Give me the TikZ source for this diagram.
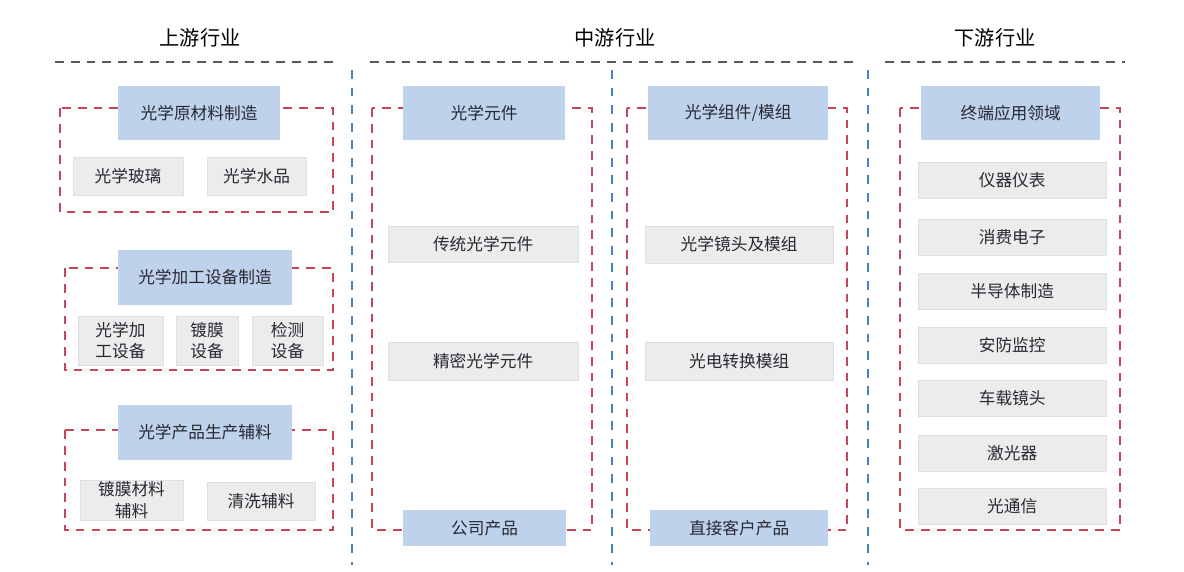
\documentclass[tikz,border=0pt]{standalone}
\usepackage{fontspec}
\setmainfont{Noto Sans CJK SC}
\definecolor{hblue}{RGB}{190,210,236}
\definecolor{gbox}{RGB}{236,236,236}
\definecolor{rdash}{RGB}{200,70,90}
\definecolor{bdash}{RGB}{70,130,190}
\definecolor{txt}{RGB}{40,40,50}
\newcommand{\bx}[7]{\node[#2, minimum width={(#5-#3)*0.02cm}, minimum height={(#6-#4)*0.02cm}] (#1) at ({(#3+#5)/2*0.02},{-(#4+#6)/2*0.02}) {#7};}
\newcommand{\rbox}[5]{\draw[rdash, dashed, line width=1pt, dash pattern=on 5pt off 4pt] ({#2*0.02},{-#3*0.02}) rectangle ({#4*0.02},{-#5*0.02}) coordinate (#1);}
\begin{document}
\begin{tikzpicture}[
  hdr/.style={fill=hblue, inner sep=0pt, font=\fontsize{9.5}{11}\selectfont, text=txt},
  gb/.style={fill=gbox, draw=gray!25, inner sep=0pt, align=center, font=\fontsize{9.5}{12}\selectfont, text=txt, drop shadow/.style={}},
  ttl/.style={font=\fontsize{11.5}{13}\selectfont, text=black}]
\useasboundingbox (0,0) rectangle (23.68,-11.44);
\fill[white] (0,0) rectangle (23.68,-11.44);
% titles
\node[ttl] (t1) at (4.0,-0.76) {上游行业};
\node[ttl] (t2) at (12.3,-0.76) {中游行业};
\node[ttl] (t3) at (19.9,-0.76) {下游行业};
\draw[gray!70!black, dashed, line width=0.8pt, dash pattern=on 5pt off 4pt] (1.1,-1.24) -- (6.7,-1.24);
\draw[gray!70!black, dashed, line width=0.8pt, dash pattern=on 5pt off 4pt] (7.4,-1.24) -- (17.1,-1.24);
\draw[gray!70!black, dashed, line width=0.8pt, dash pattern=on 5pt off 4pt] (17.7,-1.24) -- (22.5,-1.24);
\foreach \x in {352,612,868}
  \draw[bdash, dashed, line width=0.8pt, dash pattern=on 5pt off 5pt] ({\x*0.02},-1.4) -- ({\x*0.02},-11.3);
% red boxes
\rbox{r1}{60}{108}{333}{212}
\rbox{r2}{65}{268}{333}{370}
\rbox{r3}{65}{430}{333}{530}
\rbox{r4}{372}{108}{592}{530}
\rbox{r5}{627}{108}{847}{530}
\rbox{r6}{900}{108}{1120}{530}
% upstream
\bx{h1}{hdr}{118}{86}{280}{140}{光学原材料制造}
\bx{a1}{gb}{73}{157}{183}{195}{光学玻璃}
\bx{a2}{gb}{207}{157}{306}{195}{光学水品}
\bx{h2}{hdr}{118}{250}{292}{305}{光学加工设备制造}
\bx{b1}{gb}{78}{316}{163}{365}{光学加\\工设备}
\bx{b2}{gb}{176}{316}{238}{365}{镀膜\\设备}
\bx{b3}{gb}{252}{316}{323}{365}{检测\\设备}
\bx{h3}{hdr}{118}{405}{292}{460}{光学产品生产辅料}
\bx{c1}{gb}{80}{480}{183}{520}{镀膜材料\\辅料}
\bx{c2}{gb}{207}{482}{315}{520}{清洗辅料}
% midstream
\bx{h4}{hdr}{403}{86}{565}{140}{光学元件}
\bx{d1}{gb}{388}{226}{578}{262}{传统光学元件}
\bx{d2}{gb}{388}{342}{578}{380}{精密光学元件}
\bx{d3}{hdr}{403}{510}{566}{546}{公司产品}
\bx{h5}{hdr}{648}{86}{828}{140}{光学组件/模组}
\bx{e1}{gb}{645}{226}{833}{263}{光学镜头及模组}
\bx{e2}{gb}{645}{342}{833}{380}{光电转换模组}
\bx{e3}{hdr}{650}{510}{828}{546}{直接客户产品}
% downstream
\bx{h6}{hdr}{921}{86}{1100}{140}{终端应用领域}
\bx{f1}{gb}{918}{162}{1106}{198}{仪器仪表}
\bx{f2}{gb}{918}{219}{1106}{255}{消费电子}
\bx{f3}{gb}{918}{273}{1106}{309}{半导体制造}
\bx{f4}{gb}{918}{327}{1106}{363}{安防监控}
\bx{f5}{gb}{918}{380}{1106}{416}{车载镜头}
\bx{f6}{gb}{918}{435}{1106}{471}{激光器}
\bx{f7}{gb}{918}{488}{1106}{524}{光通信}
\end{tikzpicture}
\end{document}
